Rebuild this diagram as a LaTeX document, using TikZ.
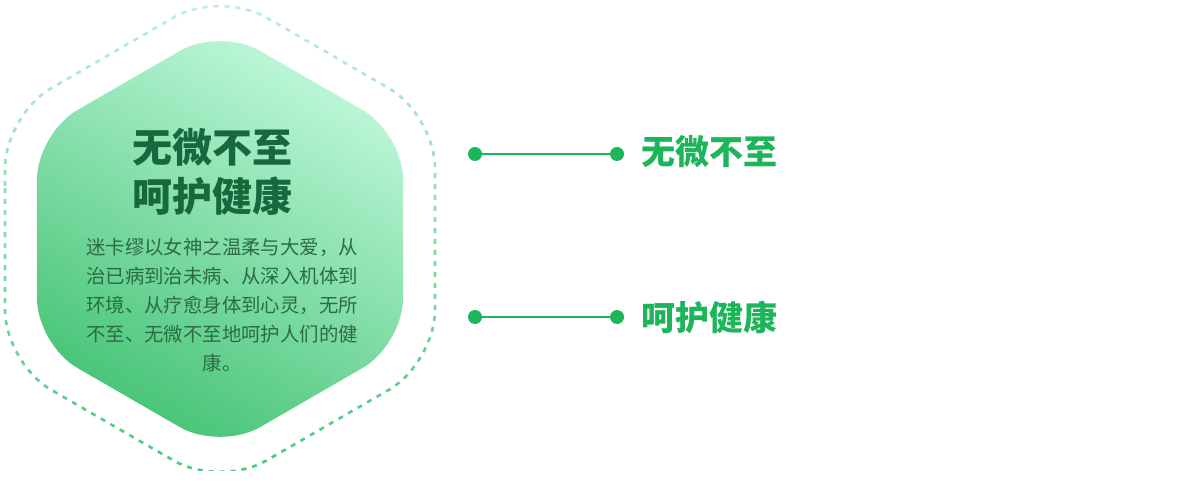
\documentclass[tikz,border=0pt]{standalone}
\usepackage{fontspec}
\newfontfamily\cjk{Noto Sans CJK SC}
\usetikzlibrary{positioning}
\definecolor{mintlight}{HTML}{BFF8DA}
\definecolor{mintdark}{HTML}{45C375}
\definecolor{titlegreen}{HTML}{17693D}
\definecolor{bodygreen}{HTML}{2B6B45}
\definecolor{linegreen}{HTML}{1DB55A}
\definecolor{dashlight}{HTML}{B8F4D2}
\definecolor{dashdark}{HTML}{4CCA7E}
\tikzset{
  dot/.style={circle, fill=linegreen, inner sep=0pt, minimum size=14pt},
  keyword/.style={anchor=west, text=linegreen, font=\cjk\bfseries\fontsize{34}{40}\selectfont, inner sep=0pt},
  dashring/.style={line width=2.6pt, dash pattern=on 5pt off 6pt, rounded corners=53pt},
}
\begin{document}
\begin{tikzpicture}[x=1pt, y=-1pt]
\useasboundingbox (0,0) rectangle (1183,481);
% outer dashed hexagon, light at the top, darker at the bottom
\foreach \i [evaluate=\i as \p using \i*100/23] in {0,...,23} {
  \begin{scope}
    \clip (0,{-10+20*\i}) rectangle (450,{10+20*\i});
    \draw[dashring, color=dashdark!\p!dashlight]
      (5,239) -- (5,114.9) -- (220,-9.3) -- (435,114.9) -- (435,363.2) -- (220,487.3) -- (5,363.2) -- cycle;
  \end{scope}
}
% inner hexagon
\shade[bottom color=mintdark, top color=mintlight, shading angle=-30, rounded corners=46pt]
  (37,239) -- (37,133.4) -- (220,27.7) -- (403,133.4) -- (403,344.6) -- (220,450.3) -- (37,344.6) -- cycle;
\node[text=titlegreen, font=\cjk\bfseries\fontsize{40}{49}\selectfont, align=center] (title) at (212,172)
  {无微不至\\呵护健康};
\node[text=bodygreen, font=\cjk\fontsize{19.4}{29}\selectfont, align=center] (body) at (222,305)
  {迷卡缪以女神之温柔与大爱，从\\治已病到治未病、从深入机体到\\环境、从疗愈身体到心灵，无所\\不至、无微不至地呵护人们的健\\康。};
% connectors
\node[dot] (a1) at (475,154) {};
\node[dot] (a2) at (617,154) {};
\node[dot] (b1) at (475,317) {};
\node[dot] (b2) at (617,317) {};
\draw[linegreen, line width=2pt] (a1) -- (a2);
\draw[linegreen, line width=2pt] (b1) -- (b2);
\node[keyword] (ka) at (641,152) {无微不至};
\node[keyword] (kb) at (641,317) {呵护健康};
\end{tikzpicture}
\end{document}
